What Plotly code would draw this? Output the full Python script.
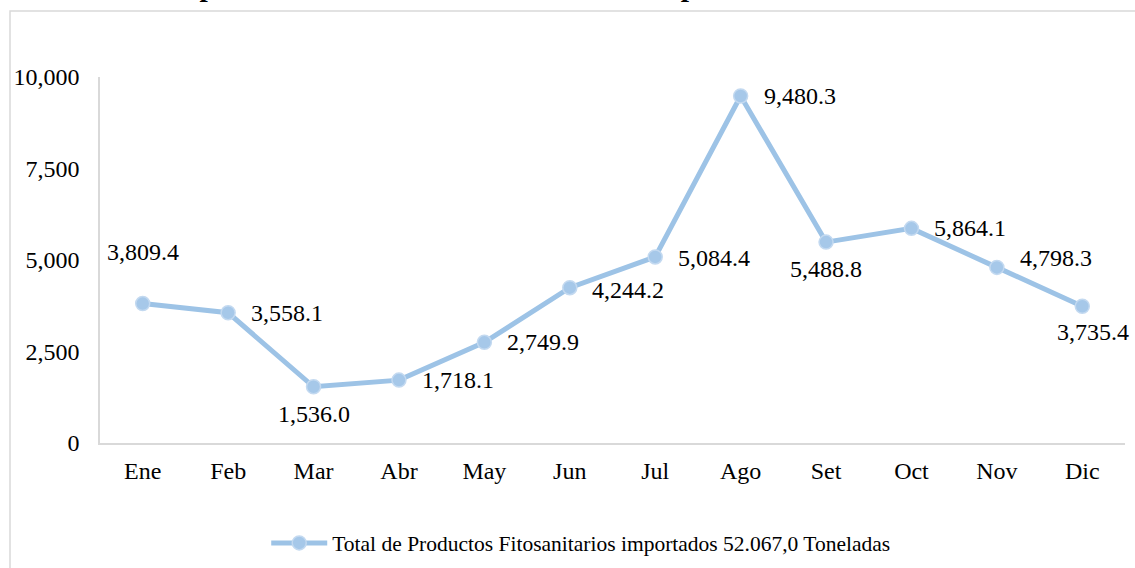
import plotly.graph_objects as go

months = ["Ene", "Feb", "Mar", "Abr", "May", "Jun", "Jul", "Ago", "Set", "Oct", "Nov", "Dic"]
values = [3809.4, 3558.1, 1536.0, 1718.1, 2749.9, 4244.2, 5084.4, 9480.3, 5488.8, 5864.1, 4798.3, 3735.4]
y_ticks = [0, 2500, 5000, 7500, 10000]
series_name = "Total de Productos Fitosanitarios importados 52.067,0 Toneladas"
title_text = "Gráfico 1. Importación de Productos Fitosanitarios por mes en toneladas."

# label placement per point: (xanchor, xshift, yshift)
label_pos = [
    ("center", 0, 52), ("left", 21, 0), ("center", 0, -27), ("left", 21, 0),
    ("left", 21, 0), ("left", 20, -2), ("left", 21, -1), ("left", 21, 0),
    ("center", 0, -27), ("left", 21, 0), ("left", 21, 9), ("center", 11, -26),
]

FONT = "Liberation Serif, Times New Roman, serif"
LINE_C = "#9dc3e6"

fig = go.Figure()
fig.add_trace(go.Scatter(
    x=months, y=values, mode="lines+markers", name=series_name,
    line=dict(color=LINE_C, width=5),
    marker=dict(size=14, color="#a6c8e9", line=dict(color="#c3d9f0", width=1.5)),
    hoverinfo="x+y",
))

annotations = []
for m, v, (xa, xs, ys) in zip(months, values, label_pos):
    annotations.append(dict(
        x=m, y=v, xref="x", yref="y", text=f"{v:,.1f}", showarrow=False,
        xanchor=xa, yanchor="middle", xshift=xs, yshift=ys,
        font=dict(family=FONT, size=24, color="black"),
    ))

annotations.append(dict(
    x=-0.0702, y=1.1997, xref="paper", yref="paper", text="<b>" + title_text + "</b>",
    showarrow=False, xanchor="left", yanchor="bottom",
    font=dict(family=FONT, size=29.5, color="black"),
))

fig.update_layout(
    width=1135, height=568,
    margin=dict(l=100, r=10, t=77, b=125, autoexpand=False),
    paper_bgcolor="white", plot_bgcolor="white",
    font=dict(family=FONT, size=24, color="black"),
    showlegend=True,
    legend=dict(orientation="h", x=0.469, xanchor="center", y=-0.273, yanchor="middle",
                font=dict(family=FONT, size=21.5, color="black"), itemwidth=56,
                bgcolor="rgba(0,0,0,0)"),
    annotations=annotations,
    shapes=[dict(type="rect", xref="paper", yref="paper",
                 x0=-0.0878, x1=1.05, y0=-0.6, y1=1.1803,
                 line=dict(color="#d9d9d9", width=1.5), fillcolor="rgba(0,0,0,0)",
                 layer="below")],
)

fig.update_xaxes(
    type="category", range=[-0.5, 11.5], showgrid=False, showline=True,
    linecolor="#d9d9d9", linewidth=1.5, automargin=False,
    ticks="outside", ticklen=5, tickcolor="rgba(0,0,0,0)",
    tickfont=dict(family=FONT, size=24, color="black"), zeroline=False,
)
fig.update_yaxes(
    range=[0, 10000], tickvals=y_ticks, tickformat=",", showgrid=False,
    showline=True, linecolor="#d9d9d9", linewidth=1.5, automargin=False,
    ticks="outside", ticklen=14, tickcolor="rgba(0,0,0,0)",
    tickfont=dict(family=FONT, size=24, color="black"), zeroline=False,
)

fig.write_html(
    "out.html",
    config={"displayModeBar": False},
    post_script="document.body.style.margin='0';document.documentElement.style.overflow='hidden';",
)
